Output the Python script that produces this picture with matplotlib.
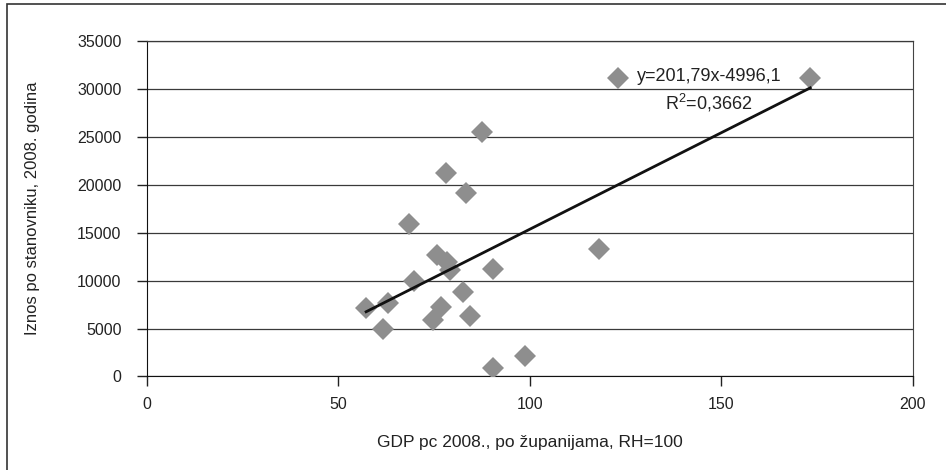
import numpy as np
import matplotlib.pyplot as plt
from matplotlib.patches import Rectangle

plt.rcParams['font.family'] = ['Liberation Sans', 'DejaVu Sans']
plt.rcParams['mathtext.fontset'] = 'custom'
plt.rcParams['mathtext.rm'] = 'Liberation Sans'

# GDP pc 2008 (RH=100) and amount per inhabitant, by county
gdp = [87.5, 78.2, 83.3, 68.5, 75.9, 78.4, 79.1, 90.5, 69.7, 82.6, 57.3,
       62.9, 76.9, 74.7, 84.3, 61.8, 90.5, 98.8, 123.0, 173.2, 118.0]
iznos = [25500, 21170, 19150, 15890, 12660, 11960, 11080, 11200, 9950, 8770, 7170,
         7620, 7210, 5890, 6300, 4950, 850, 2130, 31060, 31060, 13280]

x_ticks = [0, 50, 100, 150, 200]
y_ticks = [0, 5000, 10000, 15000, 20000, 25000, 30000, 35000]
eq_text = 'y=201,79x-4996,1'
r2_text = r'R$^{\mathrm{2}}$=0,3662'

fig = plt.figure(figsize=(9.46, 4.70), dpi=100)
ax = fig.add_axes([0.1549, 0.199, 0.8102, 0.7144])

ax.set_axisbelow(True)
ax.yaxis.grid(True, color='#3a3a3a', linewidth=0.9)

ax.plot(gdp, iznos, linestyle='none', marker='D', markersize=11.5,
        color='#8e8e8e', markeredgewidth=0, zorder=3)

# linear trend
k, b = np.polyfit(gdp, iznos, 1)
xs = np.array([min(gdp), max(gdp)])
ax.plot(xs, k * xs + b, color='#111111', linewidth=2, zorder=4)

ax.text(146.8, 31230, eq_text, ha='center', va='center', fontsize=13, color='#222222', zorder=5)
ax.text(146.8, 28460, r2_text, ha='center', va='center', fontsize=13, color='#222222', zorder=5)

ax.set_xlim(0, 200)
ax.set_ylim(0, 35000)
ax.set_xticks(x_ticks)
ax.set_yticks(y_ticks)
ax.tick_params(direction='out', length=7, width=1, colors='#222222', labelsize=11.5)
ax.tick_params(axis='x', pad=8)
ax.tick_params(axis='y', pad=11)

for s in ['left', 'bottom']:
    ax.spines[s].set_color('#111111')
ax.spines['right'].set_color('#444444')
ax.spines['top'].set_color('#3a3a3a')
ax.spines['top'].set_linewidth(0.9)

ax.set_xlabel('GDP pc 2008., po županijama, RH=100', fontsize=12.5, color='#222222')
ax.set_ylabel('Iznos po stanovniku, 2008. godina', fontsize=12, color='#222222')
ax.xaxis.set_label_coords(0.5, -0.175)
ax.yaxis.set_label_coords(-0.139, 0.5)

# outer chart frame
fig.patches.append(Rectangle((7 / 946, -0.05), 1.05, 1 - 4 / 470 + 0.05,
                             transform=fig.transFigure, fill=False,
                             edgecolor='#333333', linewidth=1.2, clip_on=False))

fig.savefig('out.png', dpi=100)
